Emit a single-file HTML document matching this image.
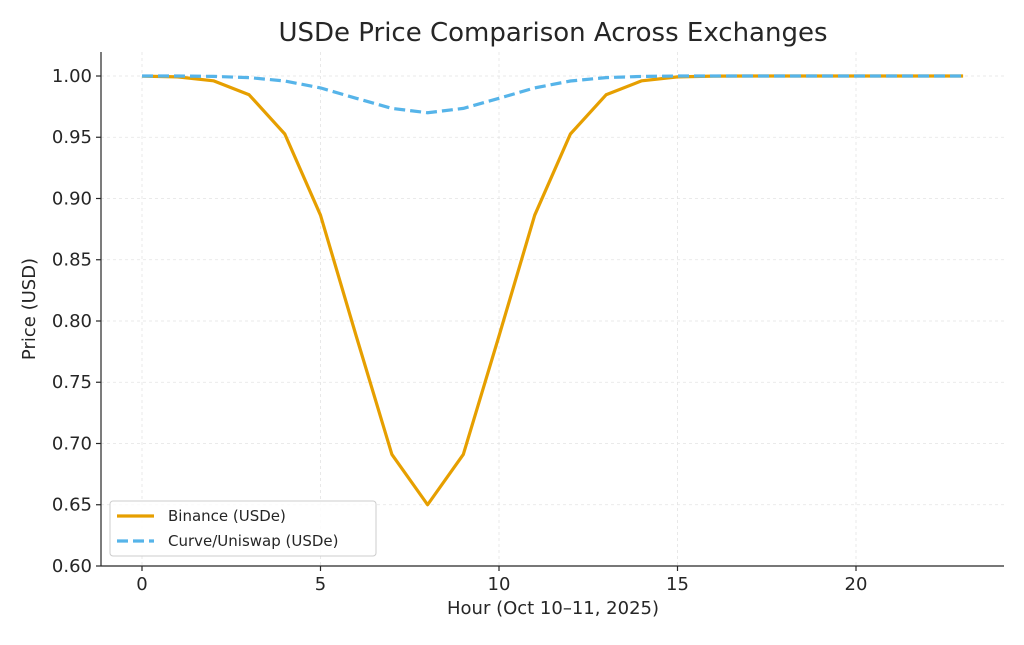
<!DOCTYPE html>
<html><head><meta charset="utf-8"><style>
body{margin:0;background:#fff;}
svg text{font-family:"DejaVu Sans","Liberation Sans",sans-serif;fill:#262626;}
</style></head><body>
<svg width="1024" height="640" viewBox="0 0 1024 640" xmlns="http://www.w3.org/2000/svg">
<rect width="1024" height="640" fill="#fff"/>
<g stroke="#e3e3e3" stroke-width="0.8" stroke-dasharray="3,3">
<line x1="142" y1="52" x2="142" y2="566"/><line x1="320.5" y1="52" x2="320.5" y2="566"/>
<line x1="499" y1="52" x2="499" y2="566"/><line x1="677.5" y1="52" x2="677.5" y2="566"/>
<line x1="856" y1="52" x2="856" y2="566"/>
<line x1="101" y1="76" x2="1004" y2="76"/><line x1="101" y1="137.25" x2="1004" y2="137.25"/>
<line x1="101" y1="198.5" x2="1004" y2="198.5"/><line x1="101" y1="259.75" x2="1004" y2="259.75"/>
<line x1="101" y1="321" x2="1004" y2="321"/><line x1="101" y1="382.25" x2="1004" y2="382.25"/>
<line x1="101" y1="443.5" x2="1004" y2="443.5"/><line x1="101" y1="504.75" x2="1004" y2="504.75"/>
</g>
<g stroke="#262626" stroke-width="1.2">
<line x1="101" y1="52" x2="101" y2="566"/><line x1="101" y1="566" x2="1004" y2="566"/>
<line x1="142" y1="566" x2="142" y2="571"/><line x1="320.5" y1="566" x2="320.5" y2="571"/>
<line x1="499" y1="566" x2="499" y2="571"/><line x1="677.5" y1="566" x2="677.5" y2="571"/>
<line x1="856" y1="566" x2="856" y2="571"/>
<line x1="96" y1="76" x2="101" y2="76"/><line x1="96" y1="137.25" x2="101" y2="137.25"/>
<line x1="96" y1="198.5" x2="101" y2="198.5"/><line x1="96" y1="259.75" x2="101" y2="259.75"/>
<line x1="96" y1="321" x2="101" y2="321"/><line x1="96" y1="382.25" x2="101" y2="382.25"/>
<line x1="96" y1="443.5" x2="101" y2="443.5"/><line x1="96" y1="504.75" x2="101" y2="504.75"/>
<line x1="96" y1="566" x2="101" y2="566"/>
</g>
<g font-size="18" text-anchor="middle">
<text x="142" y="590">0</text><text x="320.5" y="590">5</text><text x="499" y="590">10</text>
<text x="677.5" y="590">15</text><text x="856" y="590">20</text>
</g>
<g font-size="18" text-anchor="end">
<text x="92" y="82">1.00</text><text x="92" y="143">0.95</text><text x="92" y="204.5">0.90</text>
<text x="92" y="265.5">0.85</text><text x="92" y="327">0.80</text><text x="92" y="388">0.75</text>
<text x="92" y="449.5">0.70</text><text x="92" y="510.5">0.65</text><text x="92" y="572">0.60</text>
</g>
<text x="553" y="614" font-size="18" text-anchor="middle">Hour (Oct 10–11, 2025)</text>
<text x="35" y="309" font-size="18" text-anchor="middle" transform="rotate(-90 35 309)">Price (USD)</text>
<text x="553" y="41" font-size="26" text-anchor="middle">USDe Price Comparison Across Exchanges</text>
<polyline fill="none" stroke="#E69F00" stroke-width="3.2" stroke-linejoin="round" points="142,76.1 177.7,76.9 213.4,80.8 249.1,94.8 284.8,134 320.5,215.2 356.2,336 391.9,454.4 427.6,504.75 463.3,454.4 499,336 534.7,215.2 570.4,134 606.1,94.8 641.8,80.8 677.5,76.9 713.2,76.1 748.9,76 784.6,76 820.3,76 856,76 891.7,76 927.4,76 963.1,76"/>
<polyline fill="none" stroke="#56B4E9" stroke-width="3.2" stroke-dasharray="11,5" points="142,76 177.7,76 213.4,76.4 249.1,77.6 284.8,81 320.5,87.9 356.2,98.3 391.9,108.4 427.6,112.75 463.3,108.4 499,98.3 534.7,87.9 570.4,81 606.1,77.6 641.8,76.4 677.5,76 713.2,76 748.9,76 784.6,76 820.3,76 856,76 891.7,76 927.4,76 963.1,76"/>
<rect x="110" y="501" width="266" height="55" fill="#fff" fill-opacity="0.85" stroke="#ccc" rx="3"/>
<line x1="117" y1="516" x2="154" y2="516" stroke="#E69F00" stroke-width="3.2"/>
<line x1="117" y1="541" x2="154" y2="541" stroke="#56B4E9" stroke-width="3.2" stroke-dasharray="11,5"/>
<text x="168" y="521" font-size="15">Binance (USDe)</text>
<text x="168" y="546" font-size="15">Curve/Uniswap (USDe)</text>
</svg>
</body></html>
